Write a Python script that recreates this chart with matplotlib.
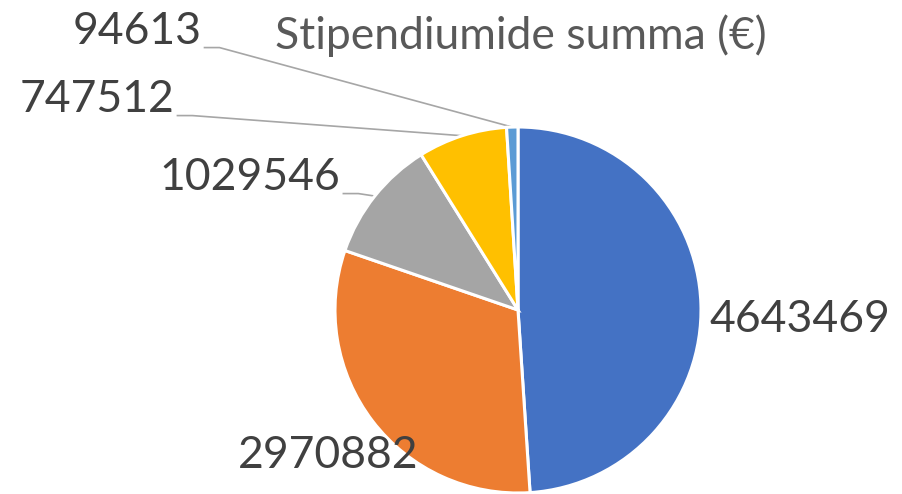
import numpy as np
import matplotlib
matplotlib.use("Agg")
import matplotlib.pyplot as plt

# andmed
values = [4643469, 2970882, 1029546, 747512, 94613]
labels = [str(v) for v in values]
colors = ["#4472C4", "#ED7D31", "#A5A5A5", "#FFC000", "#5B9BD5"]
title = "Stipendiumide summa (€)"

# sildi asukohad pikslites (ülevalt), ja kas on juhtjoon
label_pos = [(800, 320), (328, 455), (250, 178), (97, 100), (137, 32)]
has_leader = [False, False, True, True, True]

W, H = 902, 494
plt.rcParams["font.family"] = ["Lato", "DejaVu Sans"]
fig = plt.figure(figsize=(W / 100, H / 100), dpi=100)

cx, cy, r = 518, 310, 183
ax = fig.add_axes([(cx - r) / W, (H - cy - r) / H, 2 * r / W, 2 * r / H])
wedges, _ = ax.pie(values, colors=colors, startangle=90, counterclock=False,
                   radius=1, wedgeprops=dict(edgecolor="white", linewidth=2.2))
ax.set_xlim(-1, 1)
ax.set_ylim(-1, 1)
ax.set_aspect("equal")
ax.axis("off")

inv = ax.transData.inverted()
for w, lab, (px, py), lead in zip(wedges, labels, label_pos, has_leader):
    t = fig.text(px / W, 1 - py / H, lab, ha="center", va="center",
                 fontsize=32, color="#404040")
    if lead:
        ang = np.deg2rad((w.theta1 + w.theta2) / 2)
        end = (np.cos(ang), np.sin(ang))
        fig.canvas.draw()
        bb = t.get_window_extent()
        # alguspunkt sildi paremal serval, alumises osas
        sx, sy = bb.x1 + 3, bb.y0 + 0.12 * bb.height
        p0 = inv.transform((sx, sy))
        p1 = inv.transform((sx + 15, sy))
        ax.plot([p0[0], p1[0], end[0]], [p0[1], p1[1], end[1]],
                color="#A6A6A6", lw=1.2, clip_on=False, zorder=0)

fig.text(521 / W, 1 - 36 / H, title, ha="center", va="center",
         fontsize=32, color="#595959")

fig.savefig("out.png", dpi=100)
